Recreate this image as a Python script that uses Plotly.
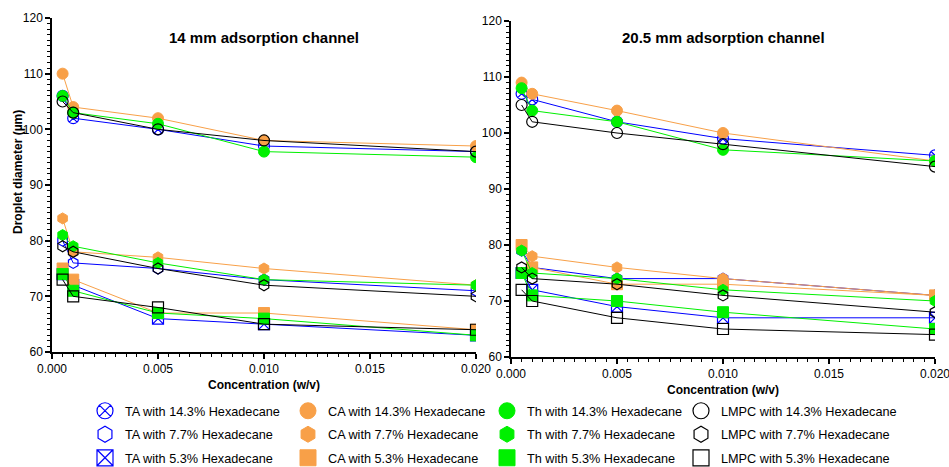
import plotly.graph_objects as go

# Surfactant concentration (w/v) for every series
conc = [0.0005, 0.001, 0.005, 0.010, 0.020]

# Droplet diameters (um), 14 mm adsorption channel
ta_143_14 = [106, 102, 100, 97, 96]
ta_77_14 = [80, 76, 75, 73, 71]
ta_53_14 = [74, 72, 66, 65, 63]
ca_143_14 = [110, 104, 102, 98, 97]
ca_77_14 = [84, 78, 77, 75, 72]
ca_53_14 = [75, 73, 67, 67, 64]
th_143_14 = [106, 103, 101, 96, 95]
th_77_14 = [81, 79, 76, 73, 72]
th_53_14 = [74, 71, 67, 66, 63]
lmpc_143_14 = [105, 103, 100, 98, 96]
lmpc_77_14 = [79, 78, 75, 72, 70]
lmpc_53_14 = [73, 70, 68, 65, 64]

# Droplet diameters (um), 20.5 mm adsorption channel
ta_143_20 = [107, 106, 102, 99, 96]
ta_77_20 = [79, 76, 74, 74, 71]
ta_53_20 = [75, 72, 69, 67, 67]
ca_143_20 = [109, 107, 104, 100, 95]
ca_77_20 = [80, 78, 76, 74, 71]
ca_53_20 = [80, 76, 73, 73, 71]
th_143_20 = [108, 104, 102, 97, 95]
th_77_20 = [79, 75, 74, 72, 70]
th_53_20 = [75, 71, 70, 68, 65]
lmpc_143_20 = [105, 102, 100, 98, 94]
lmpc_77_20 = [76, 74, 73, 71, 68]
lmpc_53_20 = [72, 70, 67, 65, 64]

panel_titles = ["14 mm adsorption channel", "20.5 mm adsorption channel"]
x_ticks = [0.000, 0.005, 0.010, 0.015, 0.020]
x_ticklabels = ["0.000", "0.005", "0.010", "0.015", "0.020"]
y_ticks = [60, 70, 80, 90, 100, 110, 120]

BLUE = "#0000FF"
ORANGE = "#F8A048"
GREEN = "#00F000"
BLACK = "#000000"

FONT = "Liberation Sans, Arial, sans-serif"

# (label, colour, symbol, filled, 14 mm data, 20.5 mm data, legend column)
series = [
    ("TA with 14.3% Hexadecane", BLUE, "circle-x-open", False, ta_143_14, ta_143_20, "legend"),
    ("TA with 7.7% Hexadecane", BLUE, "hexagon-open", False, ta_77_14, ta_77_20, "legend"),
    ("TA with 5.3% Hexadecane", BLUE, "square-x-open", False, ta_53_14, ta_53_20, "legend"),
    ("CA with 14.3% Hexadecane", ORANGE, "circle", True, ca_143_14, ca_143_20, "legend2"),
    ("CA with 7.7% Hexadecane", ORANGE, "hexagon", True, ca_77_14, ca_77_20, "legend2"),
    ("CA with 5.3% Hexadecane", ORANGE, "square", True, ca_53_14, ca_53_20, "legend2"),
    ("Th with 14.3% Hexadecane", GREEN, "circle", True, th_143_14, th_143_20, "legend3"),
    ("Th with 7.7% Hexadecane", GREEN, "hexagon", True, th_77_14, th_77_20, "legend3"),
    ("Th with 5.3% Hexadecane", GREEN, "square", True, th_53_14, th_53_20, "legend3"),
    ("LMPC with 14.3% Hexadecane", BLACK, "circle-open", False, lmpc_143_14, lmpc_143_20, "legend4"),
    ("LMPC with 7.7% Hexadecane", BLACK, "hexagon-open", False, lmpc_77_14, lmpc_77_20, "legend4"),
    ("LMPC with 5.3% Hexadecane", BLACK, "square-open", False, lmpc_53_14, lmpc_53_20, "legend4"),
]

fig = go.Figure()


def marker_style(color, symbol, filled, size):
    if filled:
        return dict(symbol=symbol, size=size, color=color, line=dict(color=color, width=1))
    return dict(symbol=symbol, size=size, color=color, line=dict(color=color, width=1.2))


for name, color, symbol, filled, d14, d20, leg in series:
    for data, xa, ya in ((d14, "x", "y"), (d20, "x2", "y2")):
        fig.add_trace(go.Scatter(
            x=conc, y=data, mode="lines+markers", name=name,
            line=dict(color=color, width=1),
            marker=marker_style(color, symbol, filled, 11),
            xaxis=xa, yaxis=ya, showlegend=False, hoverinfo="skip",
        ))
    # legend entry with a larger swatch
    fig.add_trace(go.Scatter(
        x=[None], y=[None], mode="markers", name=name, legendgroup=name,
        marker=marker_style(color, symbol, filled, 16),
        xaxis="x", yaxis="y", showlegend=True, legend=leg,
    ))

W, H = 949, 467
# plot areas in page pixels: (left, right, top, bottom)
areas = [(52, 476, 18, 352), (511, 935, 21, 357)]

axis_common = dict(
    showline=True, linecolor="black", linewidth=1.5, mirror=False,
    ticks="outside", ticklen=5, tickwidth=1.5, tickcolor="black",
    showgrid=False, zeroline=False, ticklabeloverflow="allow", automargin=False,
    tickfont=dict(family=FONT, size=12, color="black"),
)

for i, (l, r, t, b) in enumerate(areas):
    sfx = "" if i == 0 else str(i + 1)
    fig.update_layout(**{
        "xaxis" + sfx: dict(
            axis_common, domain=[l / W, r / W], range=[0, 0.020000001],
            anchor="y" + sfx, tickvals=x_ticks, ticktext=x_ticklabels,
            minor=dict(dtick=0.0005, ticks="outside", ticklen=3, tickwidth=1.2, tickcolor="black"),
            title=dict(text="<b>Concentration (w/v)</b>", standoff=5,
                       font=dict(family=FONT, size=12, color="black")),
        ),
        "yaxis" + sfx: dict(
            axis_common, domain=[1 - b / H, 1 - t / H], range=[60, 120],
            anchor="x" + sfx, tickvals=y_ticks,
            minor=dict(dtick=1, ticks="outside", ticklen=3, tickwidth=1.2, tickcolor="black"),
        ),
    })
    fig.add_annotation(
        text="<b>%s</b>" % panel_titles[i], xref="paper", yref="paper",
        x=((l + r) / 2) / W, y=1 - 38 / H, xanchor="center", yanchor="middle",
        showarrow=False, font=dict(family=FONT, size=15, color="black"),
    )

# y-axis title of the left panel
fig.add_annotation(
    text="<b>Droplet diameter (µm)</b>", xref="paper", yref="paper",
    x=18 / W, y=1 - 172 / H, xanchor="center", yanchor="middle", textangle=-90,
    showarrow=False, font=dict(family=FONT, size=12, color="black"),
)

legend_common = dict(
    orientation="v", xanchor="left", yanchor="top", y=1 - 396 / H,
    font=dict(family=FONT, size=12.7, color="black"), bgcolor="rgba(0,0,0,0)",
    tracegroupgap=4, itemclick=False, itemdoubleclick=False,
)
marker_cols = [105, 308, 507, 701]

fig.update_layout(
    width=W, height=H, template="none",
    paper_bgcolor="white", plot_bgcolor="white",
    margin=dict(l=0, r=0, t=0, b=0, autoexpand=False),
    legend=dict(legend_common, x=(marker_cols[0] - 20) / W),
    legend2=dict(legend_common, x=(marker_cols[1] - 20) / W),
    legend3=dict(legend_common, x=(marker_cols[2] - 20) / W),
    legend4=dict(legend_common, x=(marker_cols[3] - 20) / W),
)

fig.write_html("out.html")
